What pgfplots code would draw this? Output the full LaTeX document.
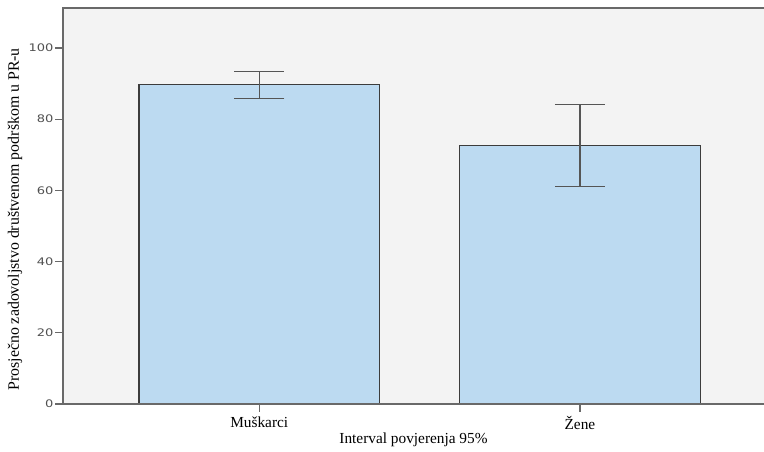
\documentclass[border=0pt]{standalone}
\usepackage{fontspec}
\setmainfont{Liberation Serif}
\newfontfamily\tickfont[FakeStretch=1.25]{DejaVu Sans}
\usepackage{pgfplots}
\usepackage{pgfplotstable}
\pgfplotsset{compat=1.18}
\definecolor{barfill}{RGB}{188,218,241}
\definecolor{bgcol}{RGB}{243,243,243}
\definecolor{axcol}{RGB}{105,105,105}
\definecolor{edgecol}{RGB}{60,60,60}
\definecolor{errcol}{RGB}{85,85,85}
\definecolor{tickcol}{RGB}{80,80,80}
\pgfplotstableread{
x y ep em
0 89.7 3.7 3.9
1 72.6 11.6 11.4
}\datatab
\begin{document}
\begin{tikzpicture}
\begin{axis}[
 scale only axis, width=525.75pt, height=297pt,
 xmin=-0.612, xmax=1.574, ymin=0, ymax=111.24,
 xtick={0,1}, xticklabels={Muškarci, Žene},
 ytick={0,20,...,100},
 xtick pos=bottom, ytick pos=left, tick align=outside,
 major tick length=5.8pt,
 tick style={axcol, line width=1pt},
 axis line style={draw=none},
 axis background/.style={fill=bgcol},
 /pgf/number format/assume math mode=true,
 yticklabel style={font=\tickfont\fontsize{7.8}{9}\selectfont, text=tickcol, inner xsep=1.2pt},
 xticklabel style={font=\fontsize{11.5}{13}\selectfont},
 xlabel={Interval povjerenja 95\%},
 ylabel={Prosječno zadovoljstvo društvenom podrškom u PR-u},
 every axis x label/.style={at={(rel axis cs:0.5,0)}, anchor=center, yshift=-27pt, font=\fontsize{11.5}{13}\selectfont},
 every axis y label/.style={at={(rel axis cs:0,0.5)}, anchor=center, xshift=-36pt, yshift=-10pt, rotate=90, font=\fontsize{11.9}{13}\selectfont},
 clip=false,
 extra description/.code={
   \draw[axcol, line width=1.5pt] (rel axis cs:1,1) -- (rel axis cs:0,1) -- (rel axis cs:0,0) -- (rel axis cs:1,0);
 },
]
\addplot[ybar, bar width=0.75, fill=barfill, draw=edgecol, line width=1pt,
  error bars/.cd, y dir=both, y explicit,
  error bar style={errcol, line width=0.9pt},
  error mark options={rotate=90, mark size=18.75pt, errcol, line width=0.9pt}]
  table[x=x, y=y, y error plus=ep, y error minus=em] {\datatab};
\end{axis}
\pgfresetboundingbox
\path ([xshift=-47.25pt,yshift=-36pt]current axis.south west) rectangle ([yshift=6pt]current axis.north east);
\end{tikzpicture}
\end{document}
